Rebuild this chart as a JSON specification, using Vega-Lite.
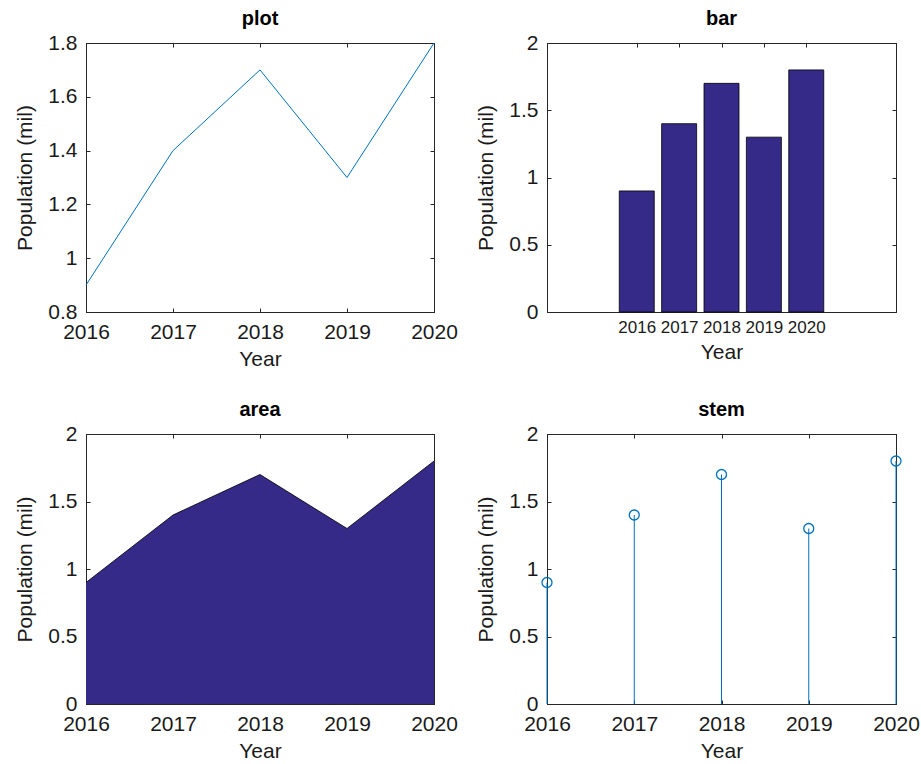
{
  "$schema": "https://vega.github.io/schema/vega-lite/v6.json",
  "padding": {"left": 14, "top": 8, "right": 5, "bottom": 5},
  "background": "white",
  "data": {"values": [
    {"Year": 2016, "Pop": 0.9},
    {"Year": 2017, "Pop": 1.4},
    {"Year": 2018, "Pop": 1.7},
    {"Year": 2019, "Pop": 1.3},
    {"Year": 2020, "Pop": 1.8}
  ]},
  "columns": 2,
  "bounds": "flush",
  "spacing": {"row": 122, "column": 113},
  "concat": [
    {
      "title": {"text": "plot"},
      "width": 348, "height": 269,
      "layer": [
        {
          "mark": {"type": "line", "color": "#0072BD", "strokeWidth": 1},
          "encoding": {
            "x": {"field": "Year", "type": "quantitative", "scale": {"domain": [2016, 2020], "nice": false, "zero": false},
                  "axis": {"orient": "bottom", "values": [2016, 2017, 2018, 2019, 2020], "format": "d", "title": "Year"}},
            "y": {"field": "Pop", "type": "quantitative", "scale": {"domain": [0.8, 1.8], "nice": false, "zero": false},
                  "axis": {"orient": "left", "values": [0.8, 1, 1.2, 1.4, 1.6, 1.8], "format": ".1~f", "title": "Population (mil)"}}
          }
        },
        {
          "mark": {"type": "line", "opacity": 0},
          "encoding": {
            "x": {"field": "Year", "type": "quantitative", "axis": {"orient": "top", "values": [2016, 2017, 2018, 2019, 2020], "labels": false, "title": null}},
            "y": {"field": "Pop", "type": "quantitative", "axis": {"orient": "right", "values": [0.8, 1, 1.2, 1.4, 1.6, 1.8], "labels": false, "title": null}}
          }
        }
      ],
      "resolve": {"axis": {"x": "independent", "y": "independent"}}
    },
    {
      "title": {"text": "bar"},
      "width": 349, "height": 269,
      "layer": [
        {
          "mark": {"type": "bar", "color": "#352A87", "stroke": "black", "strokeWidth": 0.8, "width": 35},
          "encoding": {
            "x": {"field": "Year", "type": "quantitative", "scale": {"domain": [2014, 2022], "nice": false, "zero": false},
                  "axis": {"orient": "bottom", "values": [2016, 2017, 2018, 2019, 2020], "format": "d", "title": "Year", "labelFontSize": 17, "labelPadding": 11}},
            "y": {"field": "Pop", "type": "quantitative", "scale": {"domain": [0, 2], "nice": false},
                  "axis": {"orient": "left", "values": [0, 0.5, 1, 1.5, 2], "format": ".1~f", "title": "Population (mil)"}}
          }
        },
        {
          "mark": {"type": "point", "opacity": 0},
          "encoding": {
            "x": {"field": "Year", "type": "quantitative", "axis": {"orient": "top", "values": [2016, 2017, 2018, 2019, 2020], "labels": false, "title": null}},
            "y": {"field": "Pop", "type": "quantitative", "axis": {"orient": "right", "values": [0, 0.5, 1, 1.5, 2], "labels": false, "title": null}}
          }
        }
      ],
      "resolve": {"axis": {"x": "independent", "y": "independent"}}
    },
    {
      "title": {"text": "area"},
      "width": 348, "height": 270,
      "layer": [
        {
          "mark": {"type": "area", "color": "#352A87", "opacity": 1, "line": {"color": "black", "strokeWidth": 0.8}},
          "encoding": {
            "x": {"field": "Year", "type": "quantitative", "scale": {"domain": [2016, 2020], "nice": false, "zero": false},
                  "axis": {"orient": "bottom", "values": [2016, 2017, 2018, 2019, 2020], "format": "d", "title": "Year"}},
            "y": {"field": "Pop", "type": "quantitative", "scale": {"domain": [0, 2], "nice": false},
                  "axis": {"orient": "left", "values": [0, 0.5, 1, 1.5, 2], "format": ".1~f", "title": "Population (mil)"}}
          }
        },
        {
          "mark": {"type": "point", "opacity": 0},
          "encoding": {
            "x": {"field": "Year", "type": "quantitative", "axis": {"orient": "top", "values": [2016, 2017, 2018, 2019, 2020], "labels": false, "title": null}},
            "y": {"field": "Pop", "type": "quantitative", "axis": {"orient": "right", "values": [0, 0.5, 1, 1.5, 2], "labels": false, "title": null}}
          }
        }
      ],
      "resolve": {"axis": {"x": "independent", "y": "independent"}}
    },
    {
      "title": {"text": "stem"},
      "width": 349, "height": 270,
      "layer": [
        {
          "mark": {"type": "rule", "color": "#0072BD", "strokeWidth": 1},
          "encoding": {
            "x": {"field": "Year", "type": "quantitative", "scale": {"domain": [2016, 2020], "nice": false, "zero": false},
                  "axis": {"orient": "bottom", "values": [2016, 2017, 2018, 2019, 2020], "format": "d", "title": "Year"}},
            "y": {"field": "Pop", "type": "quantitative", "scale": {"domain": [0, 2], "nice": false},
                  "axis": {"orient": "left", "values": [0, 0.5, 1, 1.5, 2], "format": ".1~f", "title": "Population (mil)"}},
            "y2": {"datum": 0}
          }
        },
        {
          "mark": {"type": "point", "shape": "circle", "filled": false, "size": 100, "strokeWidth": 1.3, "color": "#0072BD", "opacity": 1, "clip": false},
          "encoding": {
            "x": {"field": "Year", "type": "quantitative", "axis": {"orient": "top", "values": [2016, 2017, 2018, 2019, 2020], "labels": false, "title": null}},
            "y": {"field": "Pop", "type": "quantitative", "axis": {"orient": "right", "values": [0, 0.5, 1, 1.5, 2], "labels": false, "title": null}}
          }
        }
      ],
      "resolve": {"axis": {"x": "independent", "y": "independent"}}
    }
  ],
  "config": {
    "font": "Liberation Sans",
    "view": {"stroke": "#262626", "strokeWidth": 1},
    "title": {"fontSize": 20, "fontWeight": "bold", "color": "black", "font": "Liberation Sans", "offset": 3},
    "axis": {
      "grid": false,
      "domainColor": "#262626",
      "domainWidth": 1,
      "tickColor": "#262626",
      "tickSize": -4,
      "tickWidth": 1,
      "labelColor": "#1a1a1a",
      "titleColor": "#1a1a1a",
      "labelFont": "Liberation Sans",
      "titleFont": "Liberation Sans",
      "labelFontSize": 21,
      "titleFontSize": 21,
      "titleFontWeight": "normal",
      "labelFlush": false,
      "labelBound": false,
      "labelOverlap": false,
      "labelPadding": 13
    },
    "axisBottom": {"titlePadding": 6},
    "axisLeft": {"titlePadding": 12}
  }
}
